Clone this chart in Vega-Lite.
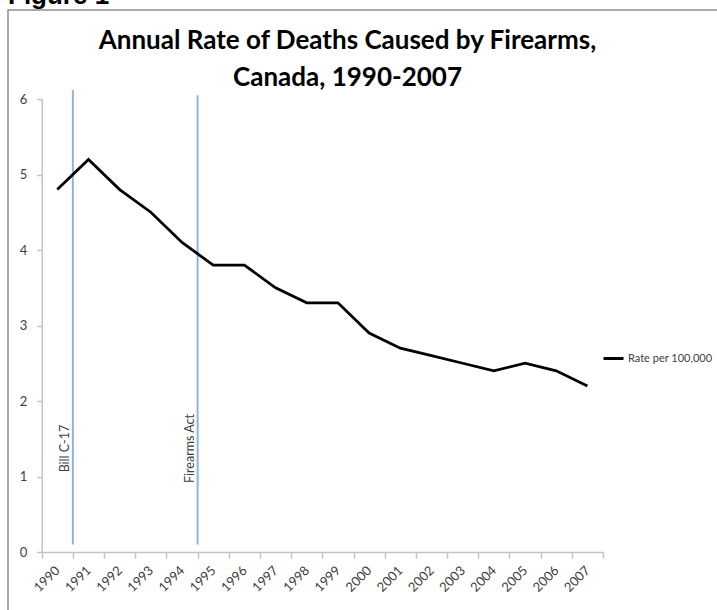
{
  "$schema": "https://vega.github.io/schema/vega-lite/v6.json",
  "autosize": {"type": "none"},
  "padding": {"left": 8, "top": 10, "right": 0, "bottom": 0},
  "width": 712,
  "height": 603,
  "background": "white",
  "view": {"stroke": "#8f8f8f", "strokeWidth": 1.5, "fill": "white"},
  "title": {
    "text": "Figure 1",
    "anchor": "start",
    "frame": "group",
    "font": "Liberation Sans",
    "fontSize": 26,
    "fontWeight": "bold",
    "color": "#000000",
    "offset": 0,
    "dy": 20,
    "baseline": "alphabetic"
  },
  "datasets": {
    "rates": [
      {"year": 1990, "rate": 4.8, "series": "Rate per 100,000"},
      {"year": 1991, "rate": 5.2, "series": "Rate per 100,000"},
      {"year": 1992, "rate": 4.8, "series": "Rate per 100,000"},
      {"year": 1993, "rate": 4.5, "series": "Rate per 100,000"},
      {"year": 1994, "rate": 4.1, "series": "Rate per 100,000"},
      {"year": 1995, "rate": 3.8, "series": "Rate per 100,000"},
      {"year": 1996, "rate": 3.8, "series": "Rate per 100,000"},
      {"year": 1997, "rate": 3.5, "series": "Rate per 100,000"},
      {"year": 1998, "rate": 3.3, "series": "Rate per 100,000"},
      {"year": 1999, "rate": 3.3, "series": "Rate per 100,000"},
      {"year": 2000, "rate": 2.9, "series": "Rate per 100,000"},
      {"year": 2001, "rate": 2.7, "series": "Rate per 100,000"},
      {"year": 2002, "rate": 2.6, "series": "Rate per 100,000"},
      {"year": 2003, "rate": 2.5, "series": "Rate per 100,000"},
      {"year": 2004, "rate": 2.4, "series": "Rate per 100,000"},
      {"year": 2005, "rate": 2.5, "series": "Rate per 100,000"},
      {"year": 2006, "rate": 2.4, "series": "Rate per 100,000"},
      {"year": 2007, "rate": 2.2, "series": "Rate per 100,000"}
    ],
    "events": [
      {"event": "Bill C-17", "year": 1990.5, "low": 0.1, "high": 6.12},
      {"event": "Firearms Act", "year": 1994.5, "low": 0.1, "high": 6.05}
    ]
  },
  "layer": [
    {
      "data": {"name": "events"},
      "mark": {"type": "rule", "color": "#8db3e2", "strokeWidth": 2},
      "encoding": {
        "x": {
          "field": "year",
          "type": "quantitative",
          "scale": {"domain": [1989.5, 2007.5], "range": [33.7, 595], "nice": false, "zero": false},
          "axis": {
            "orient": "bottom",
            "offset": -61,
            "values": [1989.5, 1990.5, 1991.5, 1992.5, 1993.5, 1994.5, 1995.5, 1996.5, 1997.5, 1998.5, 1999.5, 2000.5, 2001.5, 2002.5, 2003.5, 2004.5, 2005.5, 2006.5, 2007.5],
            "labels": false,
            "ticks": true,
            "tickSize": 6,
            "tickColor": "#c4c4c4",
            "tickWidth": 1.5,
            "domain": true,
            "domainColor": "#c4c4c4",
            "domainWidth": 1.5,
            "grid": false,
            "title": null
          }
        },
        "y": {
          "field": "low",
          "type": "quantitative",
          "scale": {"domain": [0, 6], "range": [542, 89], "nice": false, "zero": false},
          "axis": null
        },
        "y2": {"field": "high"}
      }
    },
    {
      "data": {"name": "events"},
      "mark": {
        "type": "text",
        "angle": 270,
        "align": "center",
        "baseline": "alphabetic",
        "dy": -4,
        "font": "Lato",
        "fontSize": 12.5,
        "color": "#404040"
      },
      "encoding": {
        "x": {
          "field": "year",
          "type": "quantitative",
          "axis": {
            "orient": "top",
            "offset": 0,
            "labels": false,
            "ticks": false,
            "domain": false,
            "grid": false,
            "title": ["Annual Rate of Deaths Caused by Firearms,", "Canada, 1990-2007"],
            "titleX": 339,
            "titleY": 38,
            "titleAlign": "center",
            "titleAngle": 0,
            "titleBaseline": "alphabetic",
            "titleFont": "Lato",
            "titleFontSize": 26,
            "titleFontWeight": "bold",
            "titleColor": "#000000",
            "titleLineHeight": 37
          }
        },
        "y": {"datum": 1.37, "type": "quantitative", "axis": null},
        "text": {"field": "event"}
      }
    },
    {
      "data": {"name": "rates"},
      "mark": {"type": "line", "strokeWidth": 2.75},
      "encoding": {
        "x": {
          "field": "year",
          "type": "quantitative",
          "axis": {
            "orient": "bottom",
            "offset": -61,
            "values": [1990, 1991, 1992, 1993, 1994, 1995, 1996, 1997, 1998, 1999, 2000, 2001, 2002, 2003, 2004, 2005, 2006, 2007],
            "format": "d",
            "labelAngle": -45,
            "labelAlign": "right",
            "labelBaseline": "middle",
            "labelPadding": 16,
            "labelFont": "Lato",
            "labelFontSize": 13,
            "labelColor": "#404040",
            "labelOverlap": false,
            "labelFlush": false,
            "ticks": false,
            "domain": false,
            "grid": false,
            "title": null
          }
        },
        "y": {
          "field": "rate",
          "type": "quantitative",
          "axis": {
            "orient": "left",
            "offset": -33.7,
            "values": [0, 1, 2, 3, 4, 5, 6],
            "format": "d",
            "tickSize": 5,
            "tickColor": "#c4c4c4",
            "tickWidth": 1.5,
            "domainColor": "#c4c4c4",
            "domainWidth": 1.5,
            "labelPadding": 10,
            "labelFont": "Lato",
            "labelFontSize": 13,
            "labelColor": "#404040",
            "grid": false,
            "title": null
          }
        },
        "color": {
          "field": "series",
          "type": "nominal",
          "scale": {"range": ["#000000"]},
          "legend": {
            "orient": "none",
            "legendX": 594,
            "legendY": 337,
            "title": null,
            "symbolType": "stroke",
            "symbolSize": 400,
            "symbolStrokeWidth": 3,
            "labelFont": "Lato",
            "labelFontSize": 11,
            "labelColor": "#404040",
            "labelOffset": 3,
            "padding": 0
          }
        }
      }
    }
  ],
  "resolve": {"axis": {"x": "independent", "y": "independent"}}
}
